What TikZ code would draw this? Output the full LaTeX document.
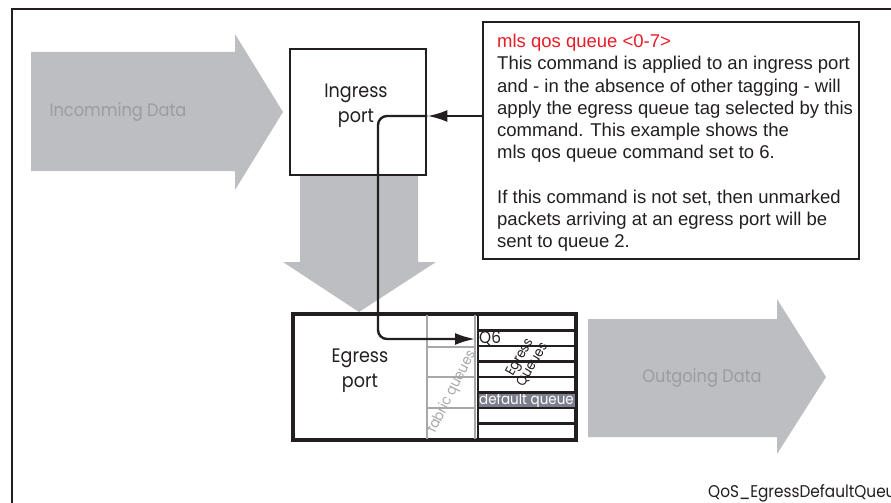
\documentclass[tikz,border=0pt]{standalone}
\usepackage{fontspec}
\setmainfont{Liberation Sans}
\newfontfamily\fut[FakeStretch=0.9]{Poppins}
\usetikzlibrary{arrows.meta}
\definecolor{arrowgray}{RGB}{189,190,193}
\definecolor{arrowtext}{RGB}{155,156,159}
\definecolor{fabricgray}{RGB}{168,168,168}
\definecolor{defq}{RGB}{124,126,142}
\definecolor{notered}{RGB}{230,30,40}
\definecolor{ink}{RGB}{35,31,32}
\begin{document}
\begin{tikzpicture}[x=1pt,y=-1pt,
  frame/.style={draw=ink, line width=2.2pt},
  box/.style={draw=ink, line width=2.8pt, fill=white, inner sep=0pt},
  bigarrow/.style={fill=arrowgray, draw=none},
  arrowlbl/.style={text=arrowtext, font=\fut\fontsize{18}{20}\selectfont},
  portlbl/.style={text=ink, align=center, font=\fut\fontsize{19.5}{25}\selectfont},
  fabric/.style={draw=fabricgray, line width=2.2pt},
  qline/.style={draw=ink, line width=2.4pt},
  conn/.style={draw=ink, line width=2.4pt},
  tip/.style={-{Latex[length=20pt,width=12pt]}}
]
\useasboundingbox (0,0) rectangle (891,503);
\clip (0,0) rectangle (891,503);
\draw[frame] (12,9) rectangle (905,520);

% incoming data arrow
\fill[bigarrow] (31,52) -- (235,52) -- (235,34) -- (283,112) -- (235,190) -- (235,171) -- (31,171) -- cycle;
\node[arrowlbl] (inlbl) at (118,112) {Incomming Data};

% downward arrow
\fill[bigarrow] (300,170) -- (418,170) -- (418,262) -- (436,262) -- (359,312) -- (283,262) -- (300,262) -- cycle;

% outgoing data arrow
\fill[bigarrow] (588,319) -- (777,319) -- (777,299) -- (826,377) -- (777,454) -- (777,437) -- (588,437) -- cycle;
\node[arrowlbl] (outlbl) at (702,378) {Outgoing Data};

% ingress port
\node[box, minimum width=136pt, minimum height=126pt] (ingress) at (358,112) {};
\node[portlbl] (inglbl) at (356,106) {Ingress\\port};

% egress port
\node[box, minimum width=281pt, minimum height=124pt] (egress) at (434.5,377) {};
\node[portlbl] (eglbl) at (360,371) {Egress\\port};

% default queue row
\node[fill=defq, text=white, minimum width=97pt, minimum height=15.5pt, inner sep=0pt,
      font=\fut\fontsize{15}{15}\selectfont] (defqueue) at (526.5,400.25) {default queue};

% fabric queues column
\draw[fabric] (427,315) -- (427,439);
\draw[fabric] (475,315) -- (475,439);
\foreach \yy in {347,377,408} { \draw[fabric] (427,\yy) -- (475,\yy); }
\node[rotate=63, text=fabricgray, font=\fut\fontsize{14.5}{14}\selectfont] (fablbl) at (452,392) {fabric queues};

% egress queues column
\draw[qline] (478,315) -- (478,439);
\foreach \yy in {330.5,346,361.5,377,392.5,408,423.5} { \draw[qline] (478,\yy) -- (575,\yy); }
\draw[box, fill=none] (egress.north west) rectangle (egress.south east);
\node[anchor=west, inner sep=1pt, text=ink, font=\fut\fontsize{17}{17}\selectfont] (q6) at (478,338) {Q6};
\node[rotate=60, align=center, text=ink, font=\fut\fontsize{14}{13}\selectfont] (eqlbl) at (526,361) {Egress\\Queues};

% note
\node[box, minimum width=376pt, minimum height=237pt] (note) at (671,140.5) {};
\node[anchor=north west, inner sep=0pt, align=left, text=ink,
      font=\fontsize{18.5}{22.2}\selectfont] (notetxt) at (497,34)
  {\textcolor{notered}{mls qos queue <0-7>}\\
   This command is applied to an ingress port\\
   and - in the absence of other tagging - will\\
   apply the egress queue tag selected by this\\
   command. This example shows the\\
   mls qos queue command set to 6.\\[22.2pt]
   If this command is not set, then unmarked\\
   packets arriving at an egress port will be\\
   sent to queue 2.};

% connectors
\coordinate (bendA) at (378,116);
\coordinate (bendB) at (378,339);
\draw[conn, tip] (note.west |- bendA) -- (ingress.east |- bendA);
\draw[conn, tip, rounded corners=9pt] (ingress.east |- bendA) -- (bendA) -- (bendB) -- ([xshift=-3pt]q6.west |- bendB);

% caption
\node[anchor=base west, inner sep=0pt, text=ink, font=\fut\fontsize{17}{17}\selectfont] (caption) at (708,497) {QoS\_EgressDefaultQueue};
\end{tikzpicture}
\end{document}
